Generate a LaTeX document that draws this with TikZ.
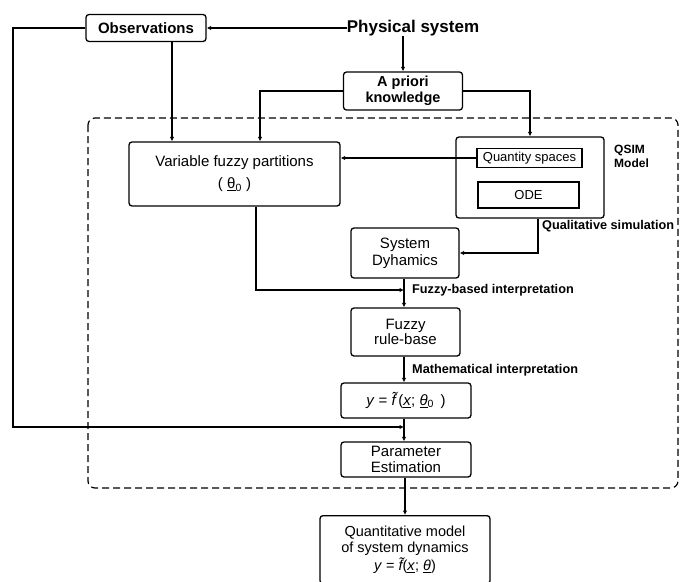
\documentclass[tikz,border=0pt]{standalone}
\usepackage{fontspec}
\setmainfont{Liberation Sans}
\usetikzlibrary{arrows.meta}
\newcommand{\fs}[2]{\fontsize{#1}{#2}\selectfont}
\begin{document}
\begin{tikzpicture}[x=1pt,y=-1pt,
  box/.style={draw, line width=1.3pt, rounded corners=3pt, align=center, inner sep=0pt},
  sqbox/.style={draw, line width=1.1pt, align=center, inner sep=0pt},
  conn/.style={line width=1.2pt},
  arr/.style={conn, -{Latex[length=4.5pt,width=4.5pt]}},
  lbl/.style={font=\fs{12.7}{14}\bfseries, anchor=west, inner sep=0pt},
  body/.style={font=\fs{15}{17}}]
\useasboundingbox (0,0) rectangle (680,581);
\clip (0,0) rectangle (680,581);

% dashed frame around the identification loop
\draw[line width=1.2pt, dash pattern=on 7pt off 4pt, rounded corners=7pt]
  (88,118) rectangle (678,488);

% nodes
\node[box, minimum width=120, minimum height=27, font=\fs{15}{17}\bfseries] (obs) at (146,28) {Observations};
\node[inner sep=0pt, font=\fs{17}{19}\bfseries] (phys) at (413,28) {Physical system};
\node[box, minimum width=119, minimum height=38, font=\fs{14.5}{15.5}\bfseries] (apriori) at (403,91) {A priori\\knowledge};
\node[box, minimum width=211, minimum height=64, body] (vfp) at (234.5,174) {Variable fuzzy partitions\\[5pt]( \underline{θ}\textsubscript{0} )};
\node[box, minimum width=148, minimum height=81] (qsim) at (530,177.5) {};
\node[sqbox, minimum width=105, minimum height=19, font=\fs{13}{14}] (qs) at (529.5,158) {Quantity spaces};
\node[sqbox, minimum width=101, minimum height=26, font=\fs{13}{14}] (ode) at (528.5,195) {ODE};
\node[anchor=west, inner sep=0pt, align=left, font=\fs{12}{14}\bfseries] (qsimlbl) at (614,156) {QSIM\\Model};
\node[box, minimum width=108, minimum height=50, font=\fs{15}{17}] (sd) at (405,253) {System\\Dyhamics};
\node[box, minimum width=109, minimum height=48, font=\fs{15}{15.5}] (frb) at (405.5,332) {Fuzzy\\rule-base};
\node[box, minimum width=130, minimum height=35, font=\fs{15}{17}] (fx) at (406,400.5) {\textit{y} = \textit{\~{f}}\,(\underline{\textit{x}}; \underline{\textit{θ}}\textsubscript{0}\, )};
\node[box, minimum width=130, minimum height=35, font=\fs{15}{16}] (pe) at (406,459.5) {Parameter\\Estimation};
% the lower edge of this box runs past the bottom of the page
\node[box, minimum width=170, minimum height=68, anchor=north, font=\fs{14.5}{16}] (qm) at (405,515) {Quantitative model\\of system dynamics\\[2.5pt]\textit{y} = \textit{\~{f}}(\underline{\textit{x}}; \underline{\textit{θ}})};

% helper coordinates for the connectors
\coordinate (xobs) at (172,0);
\coordinate (xapr) at (260,0);
\coordinate (xsim) at (538,0);
\coordinate (xvfp) at (256,0);
\coordinate (xleft) at (13,0);
\coordinate (jfuzzy) at (404,290);
\coordinate (jobs) at (404,427);

% connectors
\draw[arr] (phys.south -| apriori.north) -- (apriori.north);
\draw[arr] (phys.west) -- (obs.east);
\draw[arr] (obs.west) -- (obs.west -| xleft) -- (xleft |- jobs) -- (jobs);
\draw[arr] (obs.south -| xobs) -- (vfp.north -| xobs);
\draw[arr] (apriori.west) -| (vfp.north -| xapr);
\draw[arr] (apriori.east) -| (qsim.north);
\draw[arr] (qs.west) -- (qs.west -| vfp.east);
\draw[arr] (qsim.south -| xsim) |- (sd.east);
\draw[arr] (sd.south -| jfuzzy) -- (frb.north -| jfuzzy);
\draw[arr] (vfp.south -| xvfp) |- (jfuzzy);
\draw[arr] (frb.south -| jfuzzy) -- (fx.north -| jfuzzy);
\draw[arr] (fx.south -| jobs) -- (pe.north -| jobs);
\draw[arr] (pe.south -| qm.north) -- (qm.north);

% connector labels
\node[lbl] (lsim) at (542,226) {Qualitative simulation};
\node[lbl] (lfuzzy) at (412,290) {Fuzzy-based interpretation};
\node[lbl] (lmath) at (412,370) {Mathematical interpretation};
\end{tikzpicture}
\end{document}
